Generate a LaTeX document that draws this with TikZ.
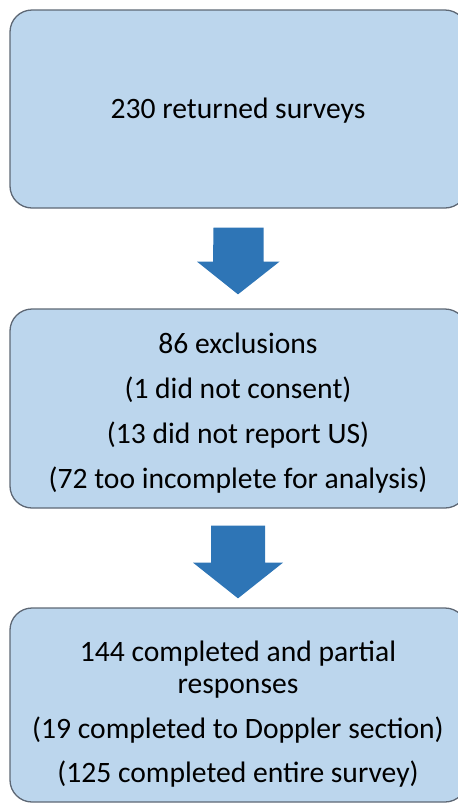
\documentclass[tikz,border=0pt]{standalone}
\usepackage{fontspec}
\setmainfont{Carlito}
\usetikzlibrary{calc}
\definecolor{boxfill}{HTML}{BCD6ED}
\definecolor{boxline}{HTML}{5E6875}
\definecolor{arrowblue}{HTML}{2E75B6}
\begin{document}
\begin{tikzpicture}[x=1pt,y=-1pt,
  box/.style={draw=boxline, fill=boxfill, line width=1.3pt, rounded corners=22pt, minimum width=457pt, inner sep=0pt},
  txt/.style={font=\fontsize{29.6}{34}\selectfont, anchor=base, inner sep=0pt, text=black},
  blockarrow/.style={fill=arrowblue, draw=none}]
\useasboundingbox (0,0) rectangle (458,804);
% boxes
\node[box, minimum height=198pt] (box1) at (238.5,109) {};
\node[box, minimum height=199pt] (box2) at (238.5,408.5) {};
\node[box, minimum height=194pt] (box3) at (238.5,705) {};
% texts
\node[txt] (t1) at (238,118) {230 returned surveys};
\node[txt] (t2a) at (238,353) {86 exclusions};
\node[txt] (t2b) at (238,398) {(1 did not consent)};
\node[txt] (t2c) at (238,443) {(13 did not report US)};
\node[txt] (t2d) at (238,488) {(72 too incomplete for analysis)};
\node[txt] (t3a) at (238,661) {144 completed and partial};
\node[txt] (t3b) at (238,693) {responses};
\node[txt] (t3c) at (238,738) {(19 completed to Doppler section)};
\node[txt] (t3d) at (238,782) {(125 completed entire survey)};
% arrows between boxes
\fill[blockarrow] ($(box1.south)+(-25,19)$) -- ++(50,0) -- ++(0,34) -- ++(16,0)
  -- ($(box2.north)+(-0.5,-14)$) -- ($(box1.south)+(-41.5,53)$) -- ++(16,0) -- cycle;
\fill[blockarrow] ($(box2.south)+(-27.5,17)$) -- ++(54,0) -- ++(0,37) -- ++(18,0)
  -- ($(box3.north)+(-0.5,-9)$) -- ($(box2.south)+(-45.5,54)$) -- ++(18,0) -- cycle;
\end{tikzpicture}
\end{document}
